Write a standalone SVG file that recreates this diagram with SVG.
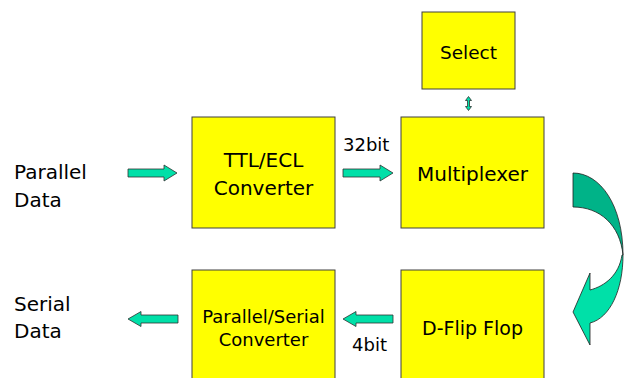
<svg xmlns="http://www.w3.org/2000/svg" width="634" height="378" viewBox="0 0 634 378">
<style>
.box{fill:#FFFF00;stroke:#404040;stroke-width:1}
.t{font-family:"DejaVu Sans",Verdana,sans-serif;fill:#000}
.arr{fill:#00E0A8;stroke:#303030;stroke-width:0.8}
</style>
<rect width="634" height="378" fill="#fff"/>
<g id="parallel-data">
<text class="t" font-size="20" x="14" y="179">Parallel</text>
<text class="t" font-size="20" x="14" y="207">Data</text>
</g>
<g id="serial-data">
<text class="t" font-size="20" x="14" y="311">Serial</text>
<text class="t" font-size="20" x="14" y="338">Data</text>
</g>
<g id="ttl-ecl">
<rect class="box" x="192" y="117" width="143" height="111"/>
<text class="t" font-size="20" x="263.5" y="167" text-anchor="middle">TTL/ECL</text>
<text class="t" font-size="20" x="263.5" y="195" text-anchor="middle">Converter</text>
</g>
<g id="select">
<rect class="box" x="422" y="12" width="93" height="77"/>
<text class="t" font-size="18.5" x="468.5" y="59" text-anchor="middle">Select</text>
</g>
<g id="multiplexer">
<rect class="box" x="401" y="117" width="143" height="111"/>
<text class="t" font-size="20" x="472.5" y="181" text-anchor="middle">Multiplexer</text>
</g>
<g id="dff">
<rect class="box" x="401" y="270" width="143" height="120"/>
<text class="t" font-size="19" x="472.5" y="335" text-anchor="middle">D-Flip Flop</text>
</g>
<g id="ps-converter">
<rect class="box" x="192" y="270" width="143" height="120"/>
<text class="t" font-size="18" x="263.5" y="323" text-anchor="middle">Parallel/Serial</text>
<text class="t" font-size="18" x="263.5" y="346" text-anchor="middle">Converter</text>
</g>
<g id="connectors">
<path class="arr" d="M128,169 H164 V165 L177,173 L164,181 V177 H128 Z"/>
<path class="arr" d="M343,169 H380 V165 L393,173 L380,181 V177 H343 Z"/>
<text class="t" font-size="18" x="343" y="151">32bit</text>
<path class="arr" d="M178,315 H141 V311.5 L128,319 L141,326.5 V323 H178 Z"/>
<path class="arr" d="M393,315 H356 V311.5 L343,319 L356,326.5 V323 H393 Z"/>
<text class="t" font-size="18" x="352" y="351">4bit</text>
<path class="arr" d="M467.5,100.5 H465.5 L468.5,96.5 L471.5,100.5 H469.5 V106.5 H471.5 L468.5,110.5 L465.5,106.5 H467.5 Z"/>
<path d="M573,173 C600,173 623,205 623,255 C620,225 600,207 573,207 Z" fill="#00B388" stroke="#202020" stroke-width="0.8"/>
<path d="M623,255 C623,290 610,318 590,323 L590,345 L573,312 L590,273 L590,290 C605,286 619,275 622,255 Z" fill="#00E0A8" stroke="#202020" stroke-width="0.8"/>
</g>
</svg>
